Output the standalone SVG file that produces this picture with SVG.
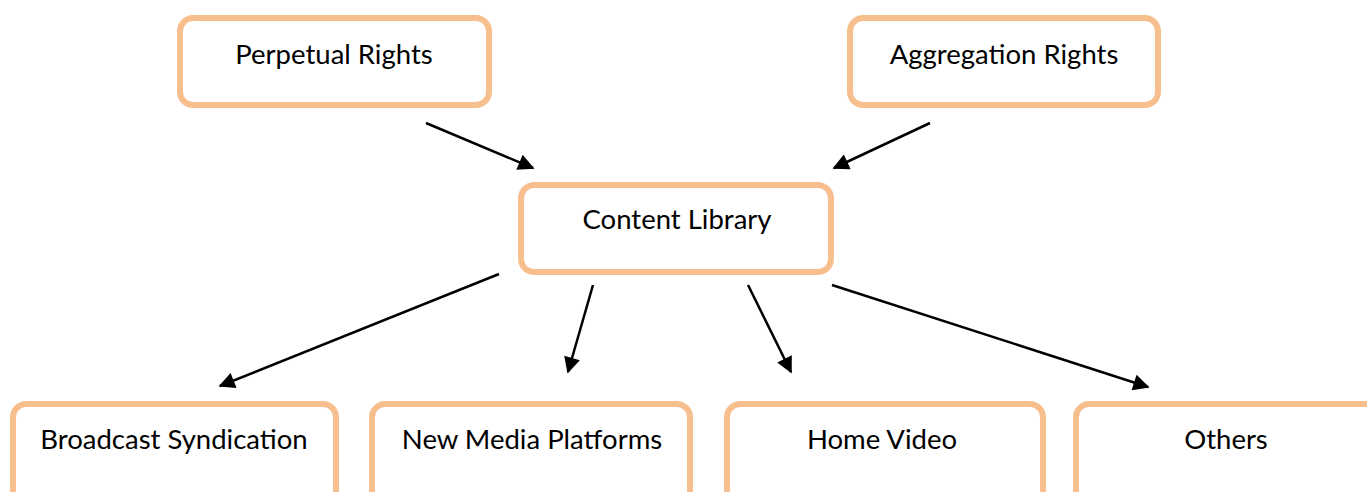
<svg xmlns="http://www.w3.org/2000/svg" width="1367" height="492" viewBox="0 0 1367 492">
<defs>
<style>
.box{fill:#fff;stroke:#F8BF8E;stroke-width:6}
.lbl{font-family:Lato,"Liberation Sans",sans-serif;font-size:27.5px;fill:#000;text-anchor:middle}
.con{stroke:#000;stroke-width:2.5;fill:none;marker-end:url(#ah)}
</style>
<marker id="ah" viewBox="0 0 10 10" refX="9" refY="5" markerWidth="7.5" markerHeight="6.5" orient="auto" markerUnits="strokeWidth">
<path d="M0,0 L10,5 L0,10 Z" fill="#000"/>
</marker>
</defs>
<rect width="1367" height="492" fill="#fff"/>
<g id="connectors">
<line class="con" x1="426" y1="123" x2="533" y2="168"/>
<line class="con" x1="930" y1="123" x2="834" y2="168"/>
<line class="con" x1="499" y1="274" x2="220" y2="386"/>
<line class="con" x1="593" y1="285" x2="568" y2="372"/>
<line class="con" x1="748" y1="285" x2="791" y2="372"/>
<line class="con" x1="832" y1="285" x2="1148" y2="387"/>
</g>
<g id="perpetual"><rect class="box" x="180" y="18" width="309" height="87" rx="13"/><text class="lbl" x="334" y="64">Perpetual Rights</text></g>
<g id="aggregation"><rect class="box" x="850" y="18" width="308" height="87" rx="13"/><text class="lbl" x="1004" y="64">Aggregation Rights</text></g>
<g id="library"><rect class="box" x="521" y="185" width="310" height="87" rx="13"/><text class="lbl" x="677" y="229">Content Library</text></g>
<g id="broadcast"><rect class="box" x="13" y="404" width="323" height="100" rx="13"/><text class="lbl" x="174" y="449">Broadcast Syndication</text></g>
<g id="newmedia"><rect class="box" x="372" y="404" width="318" height="100" rx="13"/><text class="lbl" x="532" y="449">New Media Platforms</text></g>
<g id="homevideo"><rect class="box" x="727" y="404" width="316" height="100" rx="13"/><text class="lbl" x="882" y="449">Home Video</text></g>
<g id="others"><rect class="box" x="1076" y="404" width="310" height="100" rx="13"/><text class="lbl" x="1226" y="449">Others</text></g>
</svg>
